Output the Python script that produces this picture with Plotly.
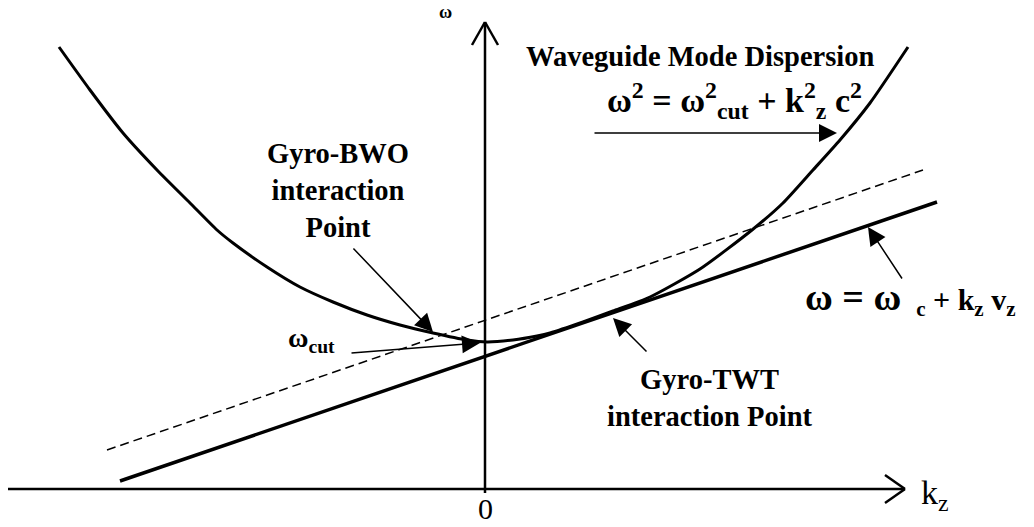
import plotly.graph_objects as go

# ---- data (kz, omega in arbitrary units) ----
curve_kz = [-4.26, -3.95, -3.62, -3.28, -2.95, -2.68, -2.52, -2.18, -1.85, -1.52, -1.18, -0.85,
            -0.52, -0.18, 0.02, 0.28, 0.52, 0.65, 0.98, 1.28, 1.65, 2.15, 2.67, 2.98, 3.28,
            3.55, 3.85, 4.23]
curve_w = [4.42, 3.99, 3.56, 3.19, 2.86, 2.59, 2.46, 2.22, 2.02, 1.87, 1.74, 1.64,
           1.56, 1.49, 1.47, 1.49, 1.53, 1.56, 1.67, 1.78, 1.92, 2.20, 2.59, 2.86, 3.19,
           3.49, 3.86, 4.42]
beam_kz = [-3.65, 4.52]
beam_w = [0.08, 2.87]
dashed_kz = [-3.78, 4.38]
dashed_w = [0.39, 3.19]

FONT = "Liberation Serif"

fig = go.Figure()
fig.add_trace(go.Scatter(x=curve_kz, y=curve_w, mode="lines",
                         line=dict(color="black", width=3, shape="spline", smoothing=0.6),
                         hoverinfo="skip"))
fig.add_trace(go.Scatter(x=beam_kz, y=beam_w, mode="lines",
                         line=dict(color="black", width=3.5), hoverinfo="skip"))
fig.add_trace(go.Scatter(x=dashed_kz, y=dashed_w, mode="lines",
                         line=dict(color="black", width=1.5, dash="9px,5px"), hoverinfo="skip"))

# axes with open arrowheads
shapes = []
def seg(x0, y0, x1, y1, w=2.5):
    shapes.append(dict(type="line", x0=x0, y0=y0, x1=x1, y1=y1, xref="x", yref="y",
                       line=dict(color="black", width=w)))
seg(-4.77, 0, 4.20, 0)
seg(4.20, 0, 4.00, 0.14)
seg(4.20, 0, 4.00, -0.14)
seg(0, -0.04, 0, 4.67)
seg(0, 4.67, -0.13, 4.44)
seg(0, 4.67, 0.13, 4.44)

anns = []
def arrow(tx, ty, hx, hy):
    anns.append(dict(x=hx, y=hy, ax=tx, ay=ty, xref="x", yref="y", axref="x", ayref="y",
                     text="", showarrow=True, arrowhead=2, arrowsize=2.4, arrowwidth=1.5,
                     arrowcolor="black"))
arrow(-1.33, 2.42, -0.52, 1.57)   # Gyro-BWO
arrow(-1.35, 1.36, -0.05, 1.46)   # omega cut
arrow(1.08, 3.56, 3.52, 3.56)     # dispersion formula
arrow(4.18, 2.09, 3.83, 2.62)     # beam line
arrow(1.63, 1.36, 1.28, 1.71)     # Gyro-TWT

def label(x, y, text, size, bold=True):
    anns.append(dict(x=x, y=y, xref="x", yref="y", text=("<b>%s</b>" % text) if bold else text,
                     showarrow=False, xanchor="center", yanchor="middle", borderpad=0,
                     font=dict(family=FONT, size=size, color="black")))

label(2.15, 4.33, "Waveguide Mode Dispersion", 28.5)
label(2.49, 3.89, "ω<sup>2</sup> = ω<sup>2</sup><sub>cut</sub> + k<sup>2</sup><sub>z</sub> c<sup>2</sup>", 34)
label(-1.47, 2.99, "Gyro-BWO<br>interaction<br>Point", 28.5)
label(-1.74, 1.50, "ω<sub>cut</sub>", 28)
label(2.25, 0.91, "Gyro-TWT<br>interaction Point", 28.5)
label(4.25, 1.91, "<span style='font-size:38px'>ω = ω</span>  <sub>c</sub> + k<sub>z</sub> v<sub>z</sub>", 30)
label(0.0, -0.19, "0", 30, bold=False)
label(4.5, -0.06, "k<sub>z</sub>", 34, bold=False)
label(-0.40, 4.77, "ω", 18)

fig.update_layout(
    width=1034, height=527, autosize=False,
    margin=dict(l=0, r=0, t=0, b=0),
    paper_bgcolor="white", plot_bgcolor="white",
    showlegend=False,
    xaxis=dict(range=[-4.85, 5.49], visible=False, fixedrange=True),
    yaxis=dict(range=[-0.38, 4.89], visible=False, fixedrange=True),
    shapes=shapes, annotations=anns,
)
fig.write_html("out.html", config={"displayModeBar": False})
